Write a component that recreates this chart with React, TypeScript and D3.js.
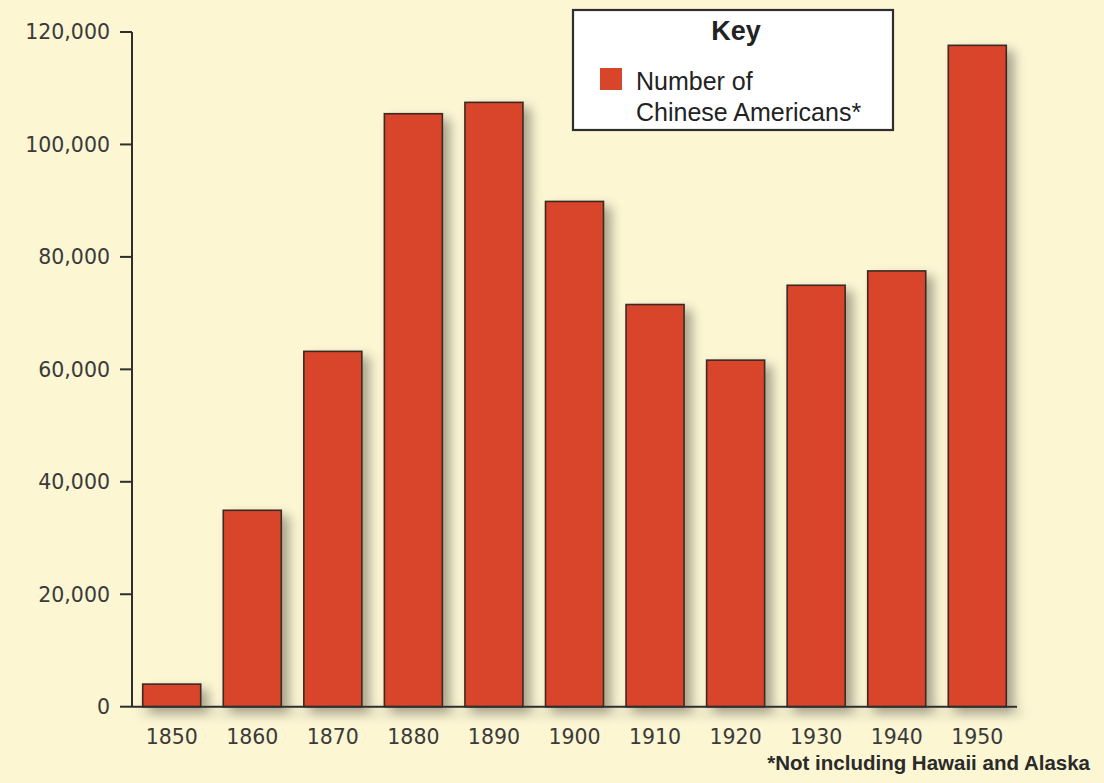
import React from "react";
import * as d3 from "d3";

const years = ["1850", "1860", "1870", "1880", "1890", "1900", "1910", "1920", "1930", "1940", "1950"];
const population = [4018, 34933, 63199, 105465, 107488, 89863, 71531, 61639, 74954, 77504, 117629];
const yTicks = [0, 20000, 40000, 60000, 80000, 100000, 120000];
const legendTitle = "Key";
const legendLines = ["Number of", "Chinese Americans*"];
const footnote = "*Not including Hawaii and Alaska";

const W = 1104;
const H = 783;
const BG = "#FCF6D3";
const BAR = "#D8452B";
const INK = "#2e2e2e";

export default function App() {
  const x = d3.scaleBand<string>().domain(years).range([132, 1017]).paddingInner(0.28).paddingOuter(0.133);
  const y = d3.scaleLinear().domain([0, 120000]).range([706.7, 32]);
  const fmt = d3.format(",");
  const tickFont = "'DejaVu Sans', sans-serif";

  return (
    <svg width={W} height={H} style={{ position: "absolute", left: 0, top: 0 }} xmlns="http://www.w3.org/2000/svg">
      <defs>
        <filter id="shadow" x="-20%" y="-20%" width="140%" height="140%">
          <feGaussianBlur in="SourceAlpha" stdDeviation="6" />
          <feOffset dx="7" dy="6" result="b" />
          <feComponentTransfer>
            <feFuncA type="linear" slope="0.35" />
          </feComponentTransfer>
          <feMerge>
            <feMergeNode />
            <feMergeNode in="SourceGraphic" />
          </feMerge>
        </filter>
      </defs>
      <rect x={0} y={0} width={W} height={H} fill={BG} />

      {/* bars */}
      <g filter="url(#shadow)">
        {years.map((yr, i) => (
          <rect
            key={yr}
            x={x(yr)!}
            y={y(population[i])}
            width={x.bandwidth()}
            height={y(0) - y(population[i])}
            fill={BAR}
            stroke="#3a2a22"
            strokeWidth={1.6}
          />
        ))}
        <line x1={132} x2={1017} y1={y(0)} y2={y(0)} stroke={INK} strokeWidth={2} />
      </g>

      {/* y axis */}
      <line x1={132} x2={132} y1={y(120000)} y2={y(0)} stroke={INK} strokeWidth={2} />
      {yTicks.map((t) => (
        <g key={t}>
          <line x1={120} x2={132} y1={y(t)} y2={y(t)} stroke={INK} strokeWidth={2} />
          <text
            x={110}
            y={y(t)}
            dy="0.36em"
            textAnchor="end"
            fontFamily={tickFont}
            fontSize={20.5}
            fill="#3a3a3a"
          >
            {fmt(t)}
          </text>
        </g>
      ))}

      {/* x labels */}
      {years.map((yr) => (
        <text
          key={yr}
          x={x(yr)! + x.bandwidth() / 2}
          y={744}
          textAnchor="middle"
          fontFamily={tickFont}
          fontSize={20.5}
          fill="#3a3a3a"
        >
          {yr}
        </text>
      ))}

      {/* legend */}
      <rect x={573} y={10} width={320} height={120} fill="#ffffff" stroke={INK} strokeWidth={2.2} />
      <text x={736} y={40} textAnchor="middle" fontFamily="'Liberation Sans', Arial, sans-serif" fontSize={27} fontWeight="bold" fill="#222">
        {legendTitle}
      </text>
      <rect x={600} y={68} width={22} height={22} fill={BAR} />
      {legendLines.map((l, i) => (
        <text key={l} x={636} y={90 + i * 31} fontFamily="'Liberation Sans', Arial, sans-serif" fontSize={25} fill="#222">
          {l}
        </text>
      ))}

      {/* footnote */}
      <text
        x={1090}
        y={770}
        textAnchor="end"
        fontFamily="'Liberation Sans', Arial, sans-serif"
        fontSize={20.5}
        fontWeight="bold"
        fill="#2a2a2a"
      >
        {footnote}
      </text>
    </svg>
  );
}
